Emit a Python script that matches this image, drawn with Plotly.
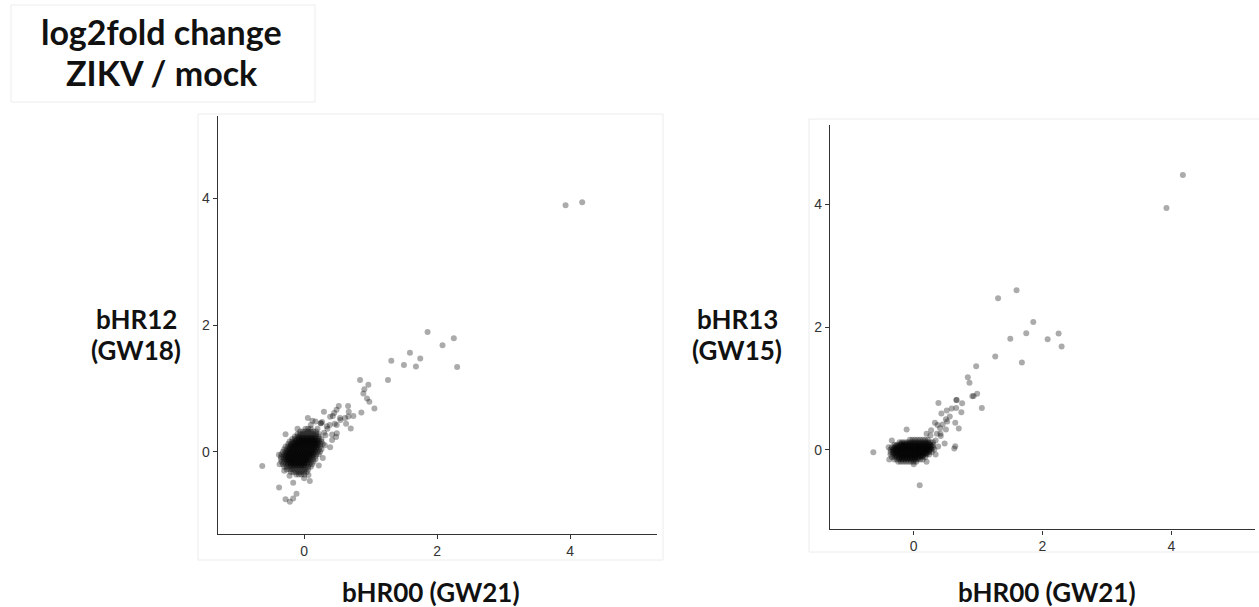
import plotly.graph_objects as go

# ---------------- data (log2 fold change ZIKV / mock) ----------------
# dense core of genes near 0 (left panel: bHR00 vs bHR12), rows of (y, [x...])
left_core_rows = [
    (0.36, [0.02, 0.06, 0.10]),
    (0.32, [-0.06, -0.02, 0.02, 0.06, 0.10, 0.14, 0.18]),
    (0.28, [-0.10, -0.06, -0.02, 0.02, 0.06, 0.10, 0.14, 0.18, 0.22]),
    (0.24, [-0.14, -0.10, -0.06, -0.02, 0.02, 0.06, 0.10, 0.14, 0.18, 0.22]),
    (0.20, [-0.18, -0.14, -0.10, -0.06, -0.02, 0.02, 0.06, 0.10, 0.14, 0.18, 0.22, 0.26]),
    (0.16, [-0.22, -0.18, -0.14, -0.10, -0.06, -0.02, 0.02, 0.06, 0.10, 0.14, 0.18, 0.22, 0.26]),
    (0.12, [-0.24, -0.20, -0.16, -0.12, -0.08, -0.04, 0.00, 0.04, 0.08, 0.12, 0.16, 0.20, 0.24, 0.28]),
    (0.08, [-0.28, -0.24, -0.20, -0.16, -0.12, -0.08, -0.04, 0.00, 0.04, 0.08, 0.12, 0.16, 0.20, 0.24]),
    (0.04, [-0.30, -0.26, -0.22, -0.18, -0.14, -0.10, -0.06, -0.02, 0.02, 0.06, 0.10, 0.14, 0.18, 0.22, 0.26]),
    (0.00, [-0.32, -0.28, -0.24, -0.20, -0.16, -0.12, -0.08, -0.04, 0.00, 0.04, 0.08, 0.12, 0.16, 0.20, 0.24]),
    (-0.04, [-0.34, -0.30, -0.26, -0.22, -0.18, -0.14, -0.10, -0.06, -0.02, 0.02, 0.06, 0.10, 0.14, 0.18, 0.22]),
    (-0.08, [-0.35, -0.31, -0.27, -0.23, -0.19, -0.15, -0.11, -0.07, -0.03, 0.01, 0.05, 0.09, 0.13, 0.17]),
    (-0.12, [-0.35, -0.31, -0.27, -0.23, -0.19, -0.15, -0.11, -0.07, -0.03, 0.01, 0.05, 0.09, 0.13, 0.17]),
    (-0.16, [-0.34, -0.30, -0.26, -0.22, -0.18, -0.14, -0.10, -0.06, -0.02, 0.02, 0.06, 0.10, 0.14]),
    (-0.20, [-0.32, -0.28, -0.24, -0.20, -0.16, -0.12, -0.08, -0.04, 0.00, 0.04, 0.08, 0.12]),
    (-0.24, [-0.30, -0.26, -0.22, -0.18, -0.14, -0.10, -0.06, -0.02, 0.02, 0.06, 0.10]),
    (-0.28, [-0.26, -0.22, -0.18, -0.14, -0.10, -0.06, -0.02, 0.02, 0.06]),
    (-0.32, [-0.20, -0.16, -0.12, -0.08, -0.04, 0.00, 0.04]),
    (-0.36, [-0.12, -0.08, -0.04, 0.00]),
    (0.22, [-0.08, -0.04, 0.00, 0.04, 0.08, 0.12, 0.16]),
    (0.18, [-0.12, -0.08, -0.04, 0.00, 0.04, 0.08, 0.12, 0.16, 0.20]),
    (0.14, [-0.16, -0.12, -0.08, -0.04, 0.00, 0.04, 0.08, 0.12, 0.16, 0.20]),
    (0.10, [-0.20, -0.16, -0.12, -0.08, -0.04, 0.00, 0.04, 0.08, 0.12, 0.16, 0.20]),
    (0.06, [-0.22, -0.18, -0.14, -0.10, -0.06, -0.02, 0.02, 0.06, 0.10, 0.14, 0.18]),
    (0.02, [-0.24, -0.20, -0.16, -0.12, -0.08, -0.04, 0.00, 0.04, 0.08, 0.12, 0.16]),
    (-0.02, [-0.26, -0.22, -0.18, -0.14, -0.10, -0.06, -0.02, 0.02, 0.06, 0.10, 0.14]),
    (-0.06, [-0.28, -0.24, -0.20, -0.16, -0.12, -0.08, -0.04, 0.00, 0.04, 0.08, 0.12]),
    (-0.10, [-0.28, -0.24, -0.20, -0.16, -0.12, -0.08, -0.04, 0.00, 0.04, 0.08]),
    (-0.14, [-0.26, -0.22, -0.18, -0.14, -0.10, -0.06, -0.02, 0.02, 0.06]),
    (-0.18, [-0.24, -0.20, -0.16, -0.12, -0.08, -0.04, 0.00, 0.04]),
    (-0.22, [-0.20, -0.16, -0.12, -0.08, -0.04, 0.00]),
]

# scattered genes, left panel
left_out_x = [3.93, 4.18, 1.855, 2.25, 2.08, 2.30, 1.59, 1.745, 1.50, 1.68, 1.31, 1.26,
              0.84, 0.965, 0.905, 0.89, 0.945, 0.98, 1.056, 0.86, 0.74, 0.66, 0.52, 0.487,
              0.297, 0.43, 0.67, 0.665, 0.615, 0.545, 0.63, 0.70, 0.46, 0.385, 0.125, 0.055,
              0.27, -0.63, -0.377, -0.28, -0.215, -0.165, -0.115, -0.28, 0.085, 0.065,
              -0.165, 0.35, 0.42, 0.39, 0.48, 0.54, 0.45, 0.39, 0.49, 0.34, 0.42, 0.17,
              0.25, 0.25, 0.49, 0.32, -0.38, -0.37, -0.30, 0.30, 0.20, 0.10, -0.10, 0.28,
              0.22, 0.00, -0.22, 0.31]
left_out_y = [3.89, 3.94, 1.89, 1.79, 1.68, 1.335, 1.56, 1.47, 1.37, 1.345, 1.435, 1.13,
              1.13, 1.055, 0.985, 0.92, 0.84, 0.79, 0.68, 0.62, 0.565, 0.72, 0.72, 0.66,
              0.63, 0.565, 0.63, 0.555, 0.53, 0.50, 0.44, 0.365, 0.44, 0.42, 0.49, 0.53,
              0.47, -0.226, -0.565, -0.75, -0.79, -0.74, -0.665, 0.275, -0.464, -0.37,
              -0.49, 0.36, 0.27, 0.07, 0.23, 0.53, 0.61, 0.55, 0.42, 0.40, 0.185, 0.475,
              0.45, 0.45, 0.29, 0.26, -0.05, -0.20, -0.30, 0.30, 0.36, 0.42, 0.36, -0.10,
              -0.22, -0.42, -0.38, 0.10]

# dense core, right panel (bHR00 vs bHR13)
right_core_rows = [
    (0.16, [-0.06, -0.02, 0.02, 0.06, 0.10, 0.14, 0.18, 0.22]),
    (0.12, [-0.22, -0.18, -0.14, -0.10, -0.06, -0.02, 0.02, 0.06, 0.10, 0.14, 0.18, 0.22, 0.26, 0.30]),
    (0.08, [-0.30, -0.26, -0.22, -0.18, -0.14, -0.10, -0.06, -0.02, 0.02, 0.06, 0.10, 0.14, 0.18, 0.22, 0.26, 0.30]),
    (0.04, [-0.34, -0.30, -0.26, -0.22, -0.18, -0.14, -0.10, -0.06, -0.02, 0.02, 0.06, 0.10, 0.14, 0.18, 0.22, 0.26, 0.30]),
    (0.00, [-0.36, -0.32, -0.28, -0.24, -0.20, -0.16, -0.12, -0.08, -0.04, 0.00, 0.04, 0.08, 0.12, 0.16, 0.20, 0.24, 0.28, 0.32]),
    (-0.04, [-0.36, -0.32, -0.28, -0.24, -0.20, -0.16, -0.12, -0.08, -0.04, 0.00, 0.04, 0.08, 0.12, 0.16, 0.20, 0.24, 0.28]),
    (-0.08, [-0.36, -0.32, -0.28, -0.24, -0.20, -0.16, -0.12, -0.08, -0.04, 0.00, 0.04, 0.08, 0.12, 0.16, 0.20, 0.24]),
    (-0.12, [-0.34, -0.30, -0.26, -0.22, -0.18, -0.14, -0.10, -0.06, -0.02, 0.02, 0.06, 0.10, 0.14, 0.18]),
    (-0.16, [-0.30, -0.26, -0.22, -0.18, -0.14, -0.10, -0.06, -0.02, 0.02, 0.06, 0.10, 0.14]),
    (-0.20, [-0.24, -0.20, -0.16, -0.12, -0.08, -0.04, 0.00, 0.04]),
    (0.10, [-0.20, -0.16, -0.12, -0.08, -0.04, 0.00, 0.04, 0.08, 0.12, 0.16, 0.20, 0.24]),
    (0.06, [-0.28, -0.24, -0.20, -0.16, -0.12, -0.08, -0.04, 0.00, 0.04, 0.08, 0.12, 0.16, 0.20, 0.24, 0.28]),
    (0.02, [-0.30, -0.26, -0.22, -0.18, -0.14, -0.10, -0.06, -0.02, 0.02, 0.06, 0.10, 0.14, 0.18, 0.22, 0.26]),
    (-0.02, [-0.32, -0.28, -0.24, -0.20, -0.16, -0.12, -0.08, -0.04, 0.00, 0.04, 0.08, 0.12, 0.16, 0.20, 0.24]),
    (-0.06, [-0.30, -0.26, -0.22, -0.18, -0.14, -0.10, -0.06, -0.02, 0.02, 0.06, 0.10, 0.14, 0.18, 0.20]),
    (-0.10, [-0.28, -0.24, -0.20, -0.16, -0.12, -0.08, -0.04, 0.00, 0.04, 0.08, 0.12, 0.14]),
    (-0.14, [-0.22, -0.18, -0.14, -0.10, -0.06, -0.02, 0.02, 0.06]),
]

# scattered genes, right panel
right_out_x = [4.18, 3.925, 1.597, 1.31, 1.857, 1.748, 2.25, 1.50, 2.08, 2.297, 1.266, 1.68,
               0.97, 0.84, 0.866, 0.985, 0.91, 0.93, 1.058, 0.664, 0.664, 0.752, 0.384, 0.66,
               0.59, 0.74, 0.513, 0.43, 0.50, 0.56, 0.645, 0.70, 0.33, 0.45, 0.41, 0.27,
               -0.11, 0.645, 0.63, -0.627, 0.093, 0.48, 0.36, 0.42, 0.37, 0.415, 0.34, 0.26,
               0.20, -0.39, -0.34, 0.38, 0.34, -0.38, 0.00, 0.20, 0.50, 0.52]
right_out_y = [4.48, 3.94, 2.60, 2.47, 2.08, 1.90, 1.895, 1.81, 1.80, 1.68, 1.52, 1.42,
               1.36, 1.18, 1.09, 0.91, 0.87, 0.875, 0.68, 0.81, 0.81, 0.757, 0.76, 0.68,
               0.67, 0.61, 0.637, 0.59, 0.495, 0.54, 0.44, 0.343, 0.44, 0.41, 0.35, 0.315,
               0.33, 0.054, 0.02, -0.044, -0.583, 0.10, 0.26, 0.22, 0.40, 0.26, 0.15, 0.23,
               0.26, 0.04, 0.15, 0.05, -0.08, -0.16, -0.24, -0.20, 0.33, 0.46]

tick_vals = [0, 2, 4]
axis_range = [-1.3, 5.3]

title_lines = ["log2fold change", "ZIKV / mock"]
left_ylabel = ["bHR12", "(GW18)"]
right_ylabel = ["bHR13", "(GW15)"]
xlabel = "bHR00 (GW21)"

# ---------------- build ----------------
def flatten(rows, xs, ys):
    fx, fy = [], []
    for yv, xlist in rows:
        for xv in xlist:
            fx.append(xv)
            fy.append(yv)
    return fx + list(xs), fy + list(ys)

lx, ly = flatten(left_core_rows, left_out_x, left_out_y)
rx, ry = flatten(right_core_rows, right_out_x, right_out_y)

W, H = 1259, 607
marker = dict(size=6, color="rgba(0,0,0,0.33)", line=dict(width=0))

fig = go.Figure()
fig.add_trace(go.Scatter(x=lx, y=ly, mode="markers", marker=marker,
                         xaxis="x", yaxis="y", showlegend=False, hoverinfo="skip"))
fig.add_trace(go.Scatter(x=rx, y=ry, mode="markers", marker=marker,
                         xaxis="x2", yaxis="y2", showlegend=False, hoverinfo="skip"))

def ax(domain, anchor):
    return dict(domain=domain, anchor=anchor, range=axis_range, tickvals=tick_vals,
                ticks="outside", ticklen=4, tickwidth=1.1, tickcolor="#333333",
                showline=True, linecolor="#333333", linewidth=1.4,
                showgrid=False, zeroline=False, fixedrange=True,
                tickfont=dict(family="Liberation Sans, Arial", size=14, color="#333333"))

def px(x):
    return x / W

def py(y):
    return 1 - y / H

lab_font = dict(family="Lato", size=26, color="#111111", weight="bold")
title_font = dict(family="Lato", size=34, color="#111111", weight="bold")

annotations = []
for i, t in enumerate(title_lines):
    annotations.append(dict(text=t, x=px(162), y=py(31 + 42 * i), xref="paper", yref="paper",
                            showarrow=False, xanchor="center", yanchor="middle", font=title_font))
for i, t in enumerate(left_ylabel):
    annotations.append(dict(text=t, x=px(136), y=py(319 + 31 * i), xref="paper", yref="paper",
                            showarrow=False, xanchor="center", yanchor="middle", font=lab_font))
for i, t in enumerate(right_ylabel):
    annotations.append(dict(text=t, x=px(737), y=py(319 + 31 * i), xref="paper", yref="paper",
                            showarrow=False, xanchor="center", yanchor="middle", font=lab_font))
for cx in (431, 1047):
    annotations.append(dict(text=xlabel, x=px(cx), y=py(592), xref="paper", yref="paper",
                            showarrow=False, xanchor="center", yanchor="middle", font=lab_font))

box_line = dict(color="#ececec", width=1)
shapes = [
    dict(type="rect", xref="paper", yref="paper", x0=px(11), x1=px(315), y0=py(102), y1=py(5), line=box_line),
    dict(type="rect", xref="paper", yref="paper", x0=px(198), x1=px(663), y0=py(560), y1=py(114), line=box_line),
    dict(type="rect", xref="paper", yref="paper", x0=px(809), x1=px(1265), y0=py(552), y1=py(119), line=box_line),
]

fig.update_layout(
    width=W, height=H, margin=dict(l=0, r=0, t=0, b=0),
    paper_bgcolor="white", plot_bgcolor="white",
    xaxis=ax([px(217.7), px(656.7)], "y"),
    yaxis=ax([py(534), py(116)], "x"),
    xaxis2=ax([px(830), px(1255)], "y2"),
    yaxis2=ax([py(529.3), py(124.7)], "x2"),
    annotations=annotations, shapes=shapes,
)

fig.write_html("out.html")
